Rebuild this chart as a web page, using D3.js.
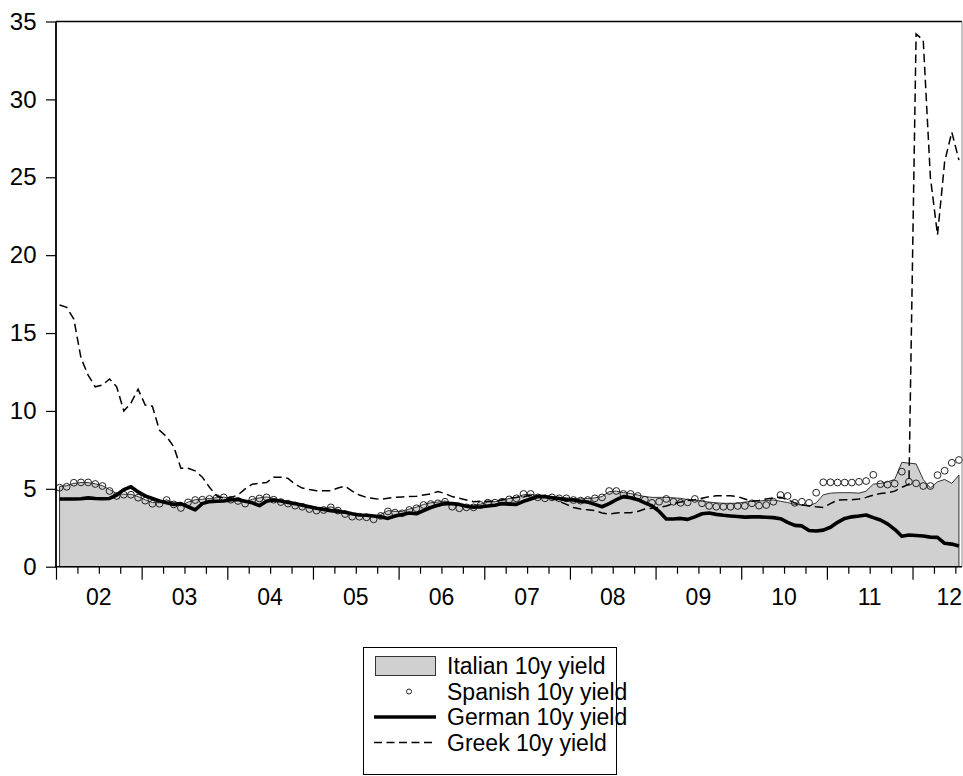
<!DOCTYPE html>
<html><head><meta charset="utf-8">
<script src="https://cdn.jsdelivr.net/npm/d3@7/dist/d3.min.js"></script>
<style>
body{margin:0;background:#fff}
svg{display:block}
text{font-family:Arial,"Liberation Sans",sans-serif;fill:#000}
</style>
</head><body>
<svg id="c" width="963" height="776"></svg>
<script>
// Monthly observations, Jan 2002 .. Jul 2012
const italian = [
5.15,5.20,5.35,5.40,5.40,5.32,5.20,4.95,4.70,4.65,4.65,4.50,
4.30,4.12,4.10,4.30,4.10,3.90,4.15,4.30,4.33,4.38,4.43,4.47,
4.35,4.30,4.15,4.33,4.42,4.48,4.38,4.25,4.12,4.00,3.92,3.78,
3.70,3.72,3.85,3.68,3.50,3.35,3.32,3.28,3.20,3.35,3.60,3.55,
3.55,3.70,3.82,4.00,4.10,4.15,4.22,4.10,3.98,3.95,3.95,4.02,
4.15,4.17,4.25,4.38,4.45,4.62,4.65,4.55,4.50,4.50,4.45,4.42,
4.38,4.35,4.38,4.42,4.50,4.82,4.85,4.75,4.70,4.60,4.50,4.45,
4.45,4.45,4.42,4.39,4.30,4.28,4.20,4.15,4.10,4.07,4.07,4.07,
4.15,4.20,4.22,4.25,4.28,4.20,4.12,4.00,3.96,3.90,4.10,4.62,
4.72,4.75,4.75,4.75,4.72,4.85,5.30,5.35,5.45,5.60,6.70,6.65,
6.60,5.60,5.05,5.45,5.60,5.35,5.88];
const spanish = [
5.07,5.13,5.39,5.41,5.41,5.31,5.18,4.86,4.54,4.62,4.62,4.43,
4.24,4.04,4.04,4.28,4.00,3.77,4.13,4.28,4.30,4.35,4.41,4.45,
4.30,4.22,4.05,4.30,4.38,4.45,4.30,4.15,4.05,3.92,3.85,3.70,
3.60,3.64,3.81,3.60,3.38,3.21,3.21,3.17,3.04,3.26,3.55,3.47,
3.43,3.64,3.75,3.96,4.02,4.07,4.17,3.85,3.75,3.81,3.81,3.96,
4.11,4.11,4.17,4.32,4.39,4.67,4.67,4.45,4.39,4.45,4.39,4.39,
4.28,4.24,4.28,4.39,4.45,4.86,4.86,4.67,4.67,4.54,4.30,4.10,
4.17,4.35,4.17,4.10,4.13,4.35,4.07,3.90,3.85,3.85,3.85,3.90,
3.90,4.07,3.92,3.96,4.17,4.60,4.54,4.10,4.17,4.10,4.75,5.42,
5.42,5.40,5.40,5.40,5.45,5.50,5.90,5.30,5.27,5.33,6.10,5.45,
5.35,5.18,5.18,5.88,6.16,6.67,6.85];
const german = [
4.35,4.35,4.35,4.36,4.42,4.38,4.36,4.38,4.60,4.95,5.13,4.80,
4.55,4.38,4.22,4.10,4.00,4.05,3.85,3.65,4.05,4.18,4.20,4.22,
4.30,4.32,4.20,4.10,3.92,4.20,4.28,4.22,4.12,4.05,3.95,3.85,
3.75,3.68,3.60,3.55,3.50,3.40,3.32,3.30,3.26,3.20,3.10,3.25,
3.35,3.45,3.40,3.60,3.80,3.95,4.05,4.05,4.00,3.88,3.82,3.85,
3.90,3.95,4.05,4.02,4.00,4.20,4.35,4.50,4.50,4.42,4.38,4.30,
4.28,4.20,4.15,4.00,3.85,4.05,4.30,4.50,4.42,4.30,4.10,3.90,
3.55,3.06,3.06,3.10,3.04,3.20,3.40,3.45,3.36,3.30,3.26,3.22,
3.18,3.20,3.20,3.17,3.15,3.08,2.85,2.65,2.62,2.32,2.29,2.35,
2.53,2.85,3.10,3.20,3.25,3.32,3.15,3.00,2.75,2.40,1.95,2.03,
2.00,1.97,1.90,1.88,1.50,1.45,1.33];
const greek = [
16.8,16.65,15.9,13.4,12.3,11.55,11.66,12.05,11.55,10.0,10.5,11.4,
10.38,10.3,8.75,8.35,7.7,6.32,6.32,6.15,5.75,5.1,4.55,4.4,
4.45,4.6,5.0,5.3,5.35,5.4,5.75,5.75,5.67,5.3,5.05,4.95,
4.88,4.88,4.88,5.05,5.17,4.85,4.6,4.45,4.38,4.32,4.4,4.45,
4.48,4.5,4.52,4.6,4.68,4.82,4.7,4.5,4.4,4.28,4.17,4.2,
4.2,4.2,4.3,4.4,4.45,4.5,4.57,4.57,4.55,4.4,4.2,4.0,
3.8,3.7,3.65,3.6,3.45,3.38,3.45,3.47,3.47,3.55,3.7,3.75,
3.8,3.9,4.05,4.15,4.25,4.3,4.4,4.5,4.55,4.55,4.55,4.5,
4.35,4.2,4.25,4.35,4.42,4.45,4.3,4.1,3.96,3.92,3.85,3.8,
4.05,4.28,4.3,4.3,4.35,4.45,4.6,4.7,4.75,4.85,5.1,5.3,
34.2,33.8,25.0,21.3,26.0,27.9,26.1];
const yearLabels = ["02","03","04","05","06","07","08","09","10","11","12"];
const yTicks = [0,5,10,15,20,25,30,35];
const legendLabels = ["Italian 10y yield","Spanish 10y yield","German 10y yield","Greek 10y yield"];

const W = 963, H = 776;
const svg = d3.select("#c");
const n = italian.length;
const x = d3.scaleLinear().domain([-0.5, n - 0.5]).range([56, 962.5]);
const y = d3.scaleLinear().domain([0, 35]).range([566.7, 21.5]);
const idx = d3.range(n);

// Italian area
const area = d3.area().x(i => x(i)).y0(y(0)).y1(i => y(italian[i]));
svg.append("path").datum(idx).attr("d", area)
  .attr("fill", "#d0d0d0").attr("stroke", "#333").attr("stroke-width", 1);

// Spanish circles
svg.append("g").selectAll("circle").data(idx).join("circle")
  .attr("cx", i => x(i)).attr("cy", i => y(spanish[i])).attr("r", 3.4)
  .attr("fill", "none").attr("stroke", "#222").attr("stroke-width", 1);

// German line
const line = arr => d3.line().x(i => x(i)).y(i => y(arr[i]));
svg.append("path").datum(idx).attr("d", line(german))
  .attr("fill", "none").attr("stroke", "#000").attr("stroke-width", 3.6)
  .attr("stroke-linejoin", "round");

// Greek line
svg.append("path").datum(idx).attr("d", line(greek))
  .attr("fill", "none").attr("stroke", "#000").attr("stroke-width", 1.5)
  .attr("stroke-dasharray", "8.5,4.5");

// frame
svg.append("line").attr("x1", 56).attr("x2", 962).attr("y1", 21.5).attr("y2", 21.5)
  .attr("stroke", "#000").attr("stroke-width", 1.3);
svg.append("line").attr("x1", 962).attr("x2", 962).attr("y1", 21.5).attr("y2", 566.7)
  .attr("stroke", "#888").attr("stroke-width", 1);

// Y axis
const gy = svg.append("g").attr("transform", "translate(56,0)")
  .call(d3.axisLeft(y).tickValues(yTicks).tickSize(10).tickPadding(9.5).tickFormat(d3.format("d")));
gy.select(".domain").remove();
gy.selectAll(".tick line").attr("stroke", "#000").attr("stroke-width", 1.2);
gy.selectAll(".tick text").attr("font-size", 24).attr("font-family", "Arial, 'Liberation Sans', sans-serif").attr("fill", "#000");
svg.append("line").attr("x1", 56).attr("x2", 56).attr("y1", 21.5).attr("y2", 566.7)
  .attr("stroke", "#000").attr("stroke-width", 1.8);

// X axis ticks (quarters minor, years major)
const minorVals = d3.range(0, n + 1, 3).map(k => k - 0.5).filter(v => (v + 0.5) % 12 !== 0);
const majorVals = d3.range(0, n + 1, 12).map(k => k - 0.5);
const gxm = svg.append("g").attr("transform", "translate(0,566.7)")
  .call(d3.axisBottom(x).tickValues(minorVals).tickSize(7).tickFormat(""));
gxm.select(".domain").remove();
const gxM = svg.append("g").attr("transform", "translate(0,566.7)")
  .call(d3.axisBottom(x).tickValues(majorVals).tickSize(13).tickFormat(""));
gxM.select(".domain").remove();
gxm.selectAll(".tick line").attr("stroke", "#000").attr("stroke-width", 1.2);
gxM.selectAll(".tick line").attr("stroke", "#000").attr("stroke-width", 1.2);
svg.append("line").attr("x1", 55).attr("x2", 962).attr("y1", 566.7).attr("y2", 566.7)
  .attr("stroke", "#000").attr("stroke-width", 1.5);

// Year labels centred in each year
const xl = svg.append("g");
yearLabels.forEach((lab, k) => {
  const t = xl.append("text").attr("y", 605).attr("font-size", 23)
    .attr("text-anchor", "middle").text(lab);
  let cx = x(k * 12 + 5.5);
  const half = t.node().getComputedTextLength() / 2;
  if (cx + half > W - 1) cx = W - 1 - half;
  t.attr("x", cx);
});

// Legend
const lg = svg.append("g");
lg.append("rect").attr("x", 363.5).attr("y", 647.5).attr("width", 253).attr("height", 127)
  .attr("fill", "#fff").attr("stroke", "#000").attr("stroke-width", 1);
const rowY = [666, 691.5, 717, 742.5];
lg.append("rect").attr("x", 375.5).attr("y", rowY[0] - 9.5).attr("width", 60).attr("height", 19)
  .attr("fill", "#d0d0d0").attr("stroke", "#333").attr("stroke-width", 1);
lg.append("circle").attr("cx", 409).attr("cy", rowY[1]).attr("r", 2.5)
  .attr("fill", "none").attr("stroke", "#222").attr("stroke-width", 1);
lg.append("line").attr("x1", 374).attr("x2", 436).attr("y1", rowY[2]).attr("y2", rowY[2])
  .attr("stroke", "#000").attr("stroke-width", 3.4);
lg.append("line").attr("x1", 374).attr("x2", 436).attr("y1", rowY[3]).attr("y2", rowY[3])
  .attr("stroke", "#000").attr("stroke-width", 1.5).attr("stroke-dasharray", "8,4.5");
legendLabels.forEach((lab, k) => {
  lg.append("text").attr("x", 447).attr("y", rowY[k] + 8).attr("font-size", 23).text(lab);
});
</script>
</body></html>
